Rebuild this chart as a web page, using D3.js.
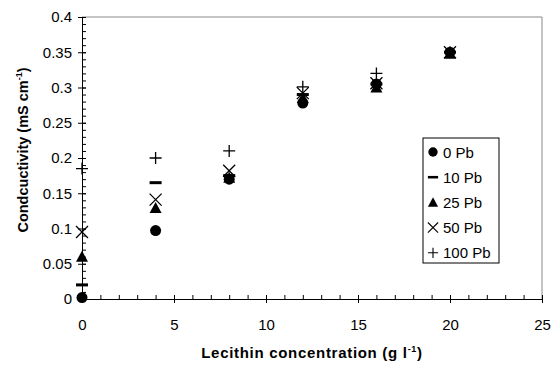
<!DOCTYPE html>
<html>
<head>
<meta charset="utf-8">
<script src="https://cdn.jsdelivr.net/npm/d3@7"></script>
<style>
  body { margin: 0; background: #fff; }
  svg { display: block; font-family: "Liberation Sans", Arial, sans-serif; }
</style>
</head>
<body>
<svg id="chart"></svg>
<script>
// lecithin concentration (g/l)
const conc = [0, 4, 8, 12, 16, 20];

// conductivity (mS/cm) for each Pb level
const pb0   = [0.002, 0.097, 0.170, 0.278, 0.305, 0.350];
const pb10  = [0.020, 0.165, 0.175, 0.290, 0.305, 0.350];
const pb25  = [0.060, 0.129, 0.172, 0.285, 0.300, 0.348];
const pb50  = [0.095, 0.141, 0.182, 0.292, 0.306, 0.350];
const pb100 = [0.185, 0.200, 0.210, 0.301, 0.320, 0.350];

const seriesNames = ["0 Pb", "10 Pb", "25 Pb", "50 Pb", "100 Pb"];
const seriesVals = [pb0, pb10, pb25, pb50, pb100];
const seriesShapes = ["circle", "dash", "triangle", "times", "plus"];

const xTicks = [0, 5, 10, 15, 20, 25];
const yTicks = [0, 0.05, 0.1, 0.15, 0.2, 0.25, 0.3, 0.35, 0.4];

const W = 553, H = 365;
const m = {left: 82, right: 11, top: 17, bottom: 66};

let svg = d3.select("#chart").attr("width", W).attr("height", H);

let x = d3.scaleLinear().domain([0, 25]).range([m.left, W - m.right]);
let y = d3.scaleLinear().domain([0, 0.4]).range([H - m.bottom, m.top]);

//frame on top and right
svg.append("path")
    .attr("d", `M${x(0)},${y(0.4)}H${x(25)}V${y(0)}`)
    .attr("fill", "none")
    .attr("stroke", "#888")
    .attr("stroke-width", 1);

//minor ticks
svg.append("g")
    .attr("transform", `translate(0,${y(0)})`)
    .call(d3.axisBottom(x).tickValues(d3.range(0, 26, 1)).tickSize(-4).tickFormat(""))
    .call(g => g.select(".domain").remove());
svg.append("g")
    .attr("transform", `translate(${x(0)},0)`)
    .call(d3.axisLeft(y).tickValues(d3.range(0, 41, 1).map(d => d / 100)).tickSize(-4).tickFormat(""))
    .call(g => g.select(".domain").remove());

//x axis
let xAxis = svg.append("g")
    .attr("transform", `translate(0,${y(0)})`)
    .call(d3.axisBottom(x).tickValues(xTicks).tickSize(4).tickPadding(16).tickSizeOuter(0));
xAxis.selectAll(".tick line").attr("y1", -4);
xAxis.selectAll("text").attr("font-size", 15).attr("font-family", "Liberation Sans, Arial");
xAxis.select(".domain").attr("stroke", "#000");

//y axis
let yAxis = svg.append("g")
    .attr("transform", `translate(${x(0)},0)`)
    .call(d3.axisLeft(y).tickValues(yTicks).tickSize(4).tickPadding(6).tickSizeOuter(0)
        .tickFormat(d => d3.format("~g")(d)));
yAxis.selectAll(".tick line").attr("x1", 4);
yAxis.selectAll("text").attr("font-size", 15).attr("font-family", "Liberation Sans, Arial");

//axis titles
let xt = svg.append("text")
    .attr("x", 312).attr("y", 358)
    .attr("text-anchor", "middle")
    .attr("letter-spacing", 0.7)
    .attr("font-size", 15).attr("font-weight", "bold");
xt.append("tspan").text("Lecithin concentration (g l");
xt.append("tspan").attr("dy", -6).attr("font-size", 9).text("-1");
xt.append("tspan").attr("dy", 6).text(")");

let yt = svg.append("text")
    .attr("transform", "translate(28,150) rotate(-90)")
    .attr("text-anchor", "middle")
    .attr("font-size", 14.5).attr("font-weight", "bold");
yt.append("tspan").text("Condcuctivity (mS cm");
yt.append("tspan").attr("dy", -6).attr("font-size", 9).text("-1");
yt.append("tspan").attr("dy", 6).text(")");

//markers
function marker(g, shape) {
    if (shape == "circle") {
        g.append("circle").attr("r", 5.5).attr("fill", "#000");
    } else if (shape == "dash") {
        g.append("rect").attr("x", -6).attr("y", -1.5).attr("width", 12).attr("height", 3).attr("fill", "#000");
    } else if (shape == "triangle") {
        g.append("path").attr("d", "M0,-6L6,5H-6Z").attr("fill", "#000");
    } else if (shape == "times") {
        g.append("path").attr("d", "M-6,-6L6,6M-6,6L6,-6").attr("stroke", "#000").attr("stroke-width", 1.3);
    } else if (shape == "plus") {
        g.append("path").attr("d", "M-6,0H6M0,-6V6").attr("stroke", "#000").attr("stroke-width", 1.3);
    }
}

seriesVals.forEach((vals, i) => {
    svg.append("g").selectAll("g")
        .data(vals)
        .enter()
        .append("g")
            .attr("transform", (d, j) => `translate(${x(conc[j])},${y(d)})`)
            .each(function () { marker(d3.select(this), seriesShapes[i]); });
});

//legend
let lg = svg.append("g").attr("transform", "translate(423,138)");
lg.append("rect")
    .attr("width", 76).attr("height", 125)
    .attr("fill", "#fff").attr("stroke", "#000").attr("stroke-width", 1);
seriesNames.forEach((name, i) => {
    let row = lg.append("g").attr("transform", `translate(10,${14 + i * 25.2})`);
    let s = row.append("g").attr("transform", "scale(0.85)");
    marker(s, seriesShapes[i]);
    row.append("text").attr("x", 10).attr("y", 5.5).attr("font-size", 15).text(name);
});
</script>
</body>
</html>
